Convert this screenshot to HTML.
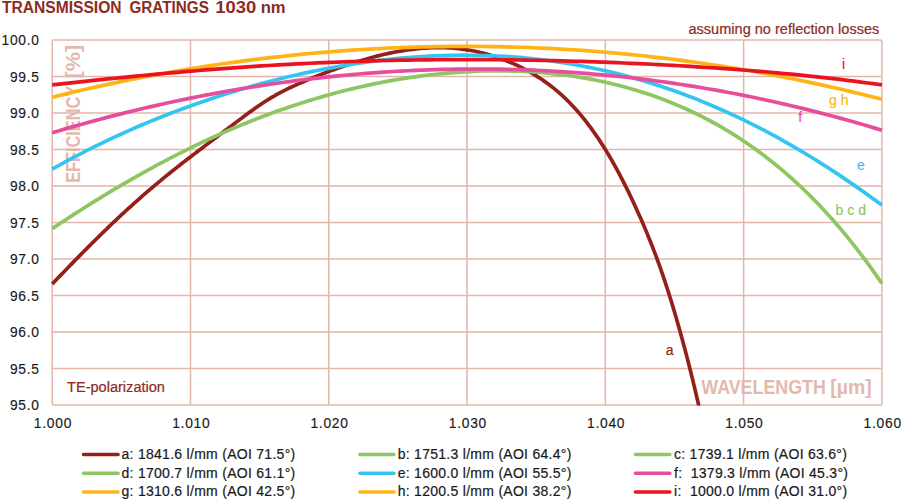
<!DOCTYPE html>
<html><head><meta charset="utf-8"><style>
html,body{margin:0;padding:0;background:#fff;}
body{width:922px;height:500px;overflow:hidden;}
svg{display:block;}
text{font-family:"Liberation Sans",sans-serif;}
.title{font-weight:bold;font-size:15.6px;fill:#8d2a22;}
.sub{font-size:14.55px;fill:#8d2a22;stroke:#8d2a22;stroke-width:0.2px;}
.axt{font-weight:bold;font-size:19.5px;fill:#e3b8ad;}
.cl{font-size:14px;stroke-width:0.15px;}
.num{font-size:13.8px;letter-spacing:0.75px;fill:#1a1a1a;stroke:#1a1a1a;stroke-width:0.15px;}
.leg{font-size:14px;letter-spacing:0.28px;fill:#1a1a1a;stroke:#1a1a1a;stroke-width:0.2px;white-space:pre;}
</style></head><body>
<svg width="922" height="500" viewBox="0 0 922 500">
<defs><clipPath id="clip"><rect x="50.2" y="0" width="833.6999999999999" height="405.6"/></clipPath></defs>
<g stroke="#e2b6ab" stroke-width="1.5" fill="none">
<line x1="190.48" y1="40.00" x2="190.48" y2="405.00"/>
<line x1="328.77" y1="40.00" x2="328.77" y2="405.00"/>
<line x1="467.05" y1="40.00" x2="467.05" y2="405.00"/>
<line x1="605.33" y1="40.00" x2="605.33" y2="405.00"/>
<line x1="743.62" y1="40.00" x2="743.62" y2="405.00"/>
<line x1="52.20" y1="76.50" x2="881.90" y2="76.50"/>
<line x1="52.20" y1="113.00" x2="881.90" y2="113.00"/>
<line x1="52.20" y1="149.50" x2="881.90" y2="149.50"/>
<line x1="52.20" y1="186.00" x2="881.90" y2="186.00"/>
<line x1="52.20" y1="222.50" x2="881.90" y2="222.50"/>
<line x1="52.20" y1="259.00" x2="881.90" y2="259.00"/>
<line x1="52.20" y1="295.50" x2="881.90" y2="295.50"/>
<line x1="52.20" y1="332.00" x2="881.90" y2="332.00"/>
<line x1="52.20" y1="368.50" x2="881.90" y2="368.50"/>
<rect x="52.20" y="40.00" width="829.70" height="365.00" rx="1.5" stroke-linejoin="round"/>
</g>
<text transform="translate(79.6 182.8) rotate(-90)" class="axt" textLength="97" lengthAdjust="spacingAndGlyphs">EFFICIENCY</text>
<text transform="translate(79.6 78.4) rotate(-90)" class="axt" textLength="33.6" lengthAdjust="spacingAndGlyphs">[%]</text>
<text x="701.3" y="394.3" class="axt" textLength="124.5" lengthAdjust="spacingAndGlyphs">WAVELENGTH</text>
<text x="830.3" y="394.3" class="axt">[µm]</text>
<g fill="none" stroke-width="3.7" stroke-linejoin="round" clip-path="url(#clip)">
<path d="M52.25 283.96 L54.13 282.00 L56.02 280.03 L57.90 278.07 L59.79 276.10 L61.68 274.14 L63.57 272.18 L65.47 270.22 L67.36 268.27 L69.26 266.31 L71.16 264.36 L73.06 262.41 L74.97 260.47 L76.87 258.52 L78.78 256.58 L80.70 254.64 L82.61 252.70 L84.53 250.77 L86.45 248.84 L88.37 246.91 L90.30 244.99 L92.23 243.06 L94.16 241.15 L96.10 239.23 L98.04 237.32 L99.98 235.41 L101.93 233.51 L103.88 231.60 L105.83 229.71 L107.79 227.81 L109.76 225.93 L111.72 224.04 L113.70 222.17 L115.67 220.29 L117.66 218.43 L119.65 216.57 L121.64 214.71 L123.64 212.86 L125.64 211.01 L127.65 209.18 L129.67 207.34 L131.69 205.52 L133.71 203.69 L135.74 201.88 L137.78 200.07 L139.82 198.27 L141.86 196.47 L143.91 194.68 L145.97 192.89 L148.03 191.11 L150.10 189.34 L152.17 187.57 L154.25 185.81 L156.33 184.06 L158.43 182.31 L160.52 180.57 L162.63 178.84 L164.73 177.12 L166.85 175.40 L168.97 173.69 L171.10 171.99 L173.23 170.30 L175.37 168.61 L177.51 166.93 L179.65 165.25 L181.81 163.58 L183.96 161.91 L186.12 160.25 L188.28 158.59 L190.44 156.94 L192.61 155.28 L194.77 153.63 L196.94 151.98 L199.10 150.33 L201.27 148.68 L203.44 147.04 L205.61 145.39 L207.78 143.74 L209.95 142.10 L212.12 140.45 L214.29 138.81 L216.46 137.16 L218.64 135.52 L220.81 133.88 L222.98 132.24 L225.15 130.59 L227.33 128.95 L229.50 127.31 L231.68 125.67 L233.85 124.03 L236.03 122.39 L238.20 120.76 L240.38 119.12 L242.56 117.49 L244.74 115.85 L246.92 114.23 L249.11 112.61 L251.31 111.00 L253.52 109.40 L255.74 107.83 L257.97 106.27 L260.22 104.73 L262.49 103.22 L264.77 101.73 L267.07 100.28 L269.39 98.84 L271.72 97.44 L274.08 96.07 L276.45 94.73 L278.83 93.42 L281.24 92.14 L283.65 90.88 L286.09 89.66 L288.53 88.46 L290.99 87.29 L293.46 86.14 L295.94 85.01 L298.42 83.89 L300.92 82.80 L303.42 81.72 L305.92 80.65 L308.43 79.59 L310.95 78.55 L313.47 77.52 L316.00 76.51 L318.53 75.50 L321.07 74.51 L323.60 73.52 L326.15 72.55 L328.70 71.59 L331.25 70.64 L333.80 69.70 L336.36 68.77 L338.93 67.85 L341.50 66.94 L344.07 66.05 L346.65 65.17 L349.23 64.30 L351.81 63.44 L354.41 62.60 L357.00 61.78 L359.60 60.97 L362.21 60.18 L364.82 59.41 L367.44 58.66 L370.06 57.92 L372.69 57.21 L375.32 56.52 L377.96 55.84 L380.61 55.19 L383.26 54.57 L385.91 53.96 L388.57 53.38 L391.24 52.82 L393.91 52.29 L396.59 51.79 L399.27 51.31 L401.95 50.85 L404.64 50.43 L407.34 50.03 L410.04 49.65 L412.74 49.31 L415.44 49.00 L418.15 48.71 L420.86 48.46 L423.58 48.23 L426.30 48.04 L429.01 47.89 L431.74 47.77 L434.46 47.68 L437.18 47.64 L439.90 47.63 L442.63 47.66 L445.35 47.73 L448.07 47.84 L450.79 48.00 L453.51 48.19 L456.22 48.43 L458.93 48.71 L461.63 49.04 L464.33 49.40 L467.03 49.81 L469.71 50.26 L472.39 50.75 L475.06 51.28 L477.73 51.85 L480.38 52.46 L483.03 53.11 L485.66 53.80 L488.29 54.53 L490.90 55.29 L493.50 56.09 L496.09 56.94 L498.67 57.81 L501.24 58.73 L503.79 59.68 L506.32 60.67 L508.85 61.70 L511.35 62.77 L513.84 63.87 L516.32 65.01 L518.78 66.18 L521.22 67.39 L523.64 68.63 L526.04 69.91 L528.43 71.23 L530.80 72.57 L533.14 73.96 L535.47 75.37 L537.77 76.82 L540.06 78.30 L542.32 79.82 L544.56 81.37 L546.78 82.95 L548.97 84.56 L551.14 86.21 L553.29 87.89 L555.40 89.61 L557.49 91.35 L559.55 93.13 L561.59 94.94 L563.60 96.78 L565.58 98.65 L567.53 100.55 L569.45 102.48 L571.34 104.44 L573.21 106.42 L575.05 108.43 L576.87 110.46 L578.65 112.52 L580.41 114.60 L582.15 116.69 L583.86 118.81 L585.55 120.95 L587.22 123.10 L588.87 125.27 L590.50 127.45 L592.11 129.65 L593.69 131.86 L595.26 134.09 L596.81 136.33 L598.33 138.59 L599.84 140.86 L601.33 143.14 L602.80 145.43 L604.26 147.73 L605.69 150.05 L607.11 152.37 L608.51 154.71 L609.90 157.05 L611.27 159.41 L612.62 161.77 L613.96 164.14 L615.28 166.52 L616.59 168.91 L617.89 171.30 L619.17 173.71 L620.44 176.12 L621.70 178.53 L622.95 180.95 L624.18 183.38 L625.41 185.81 L626.62 188.25 L627.82 190.69 L629.02 193.14 L630.20 195.60 L631.37 198.05 L632.54 200.52 L633.69 202.98 L634.84 205.45 L635.98 207.93 L637.11 210.41 L638.23 212.89 L639.34 215.38 L640.44 217.87 L641.53 220.36 L642.62 222.86 L643.69 225.36 L644.76 227.87 L645.82 230.38 L646.87 232.89 L647.90 235.41 L648.93 237.93 L649.95 240.46 L650.96 242.99 L651.96 245.52 L652.95 248.06 L653.93 250.60 L654.89 253.15 L655.85 255.70 L656.80 258.25 L657.74 260.81 L658.67 263.37 L659.58 265.93 L660.49 268.50 L661.39 271.07 L662.28 273.64 L663.16 276.22 L664.03 278.80 L664.89 281.39 L665.75 283.97 L666.59 286.56 L667.43 289.15 L668.26 291.75 L669.08 294.34 L669.90 296.94 L670.71 299.54 L671.51 302.14 L672.31 304.75 L673.10 307.36 L673.88 309.97 L674.65 312.58 L675.42 315.19 L676.19 317.80 L676.95 320.42 L677.70 323.04 L678.44 325.66 L679.18 328.28 L679.92 330.90 L680.65 333.52 L681.37 336.15 L682.09 338.78 L682.81 341.40 L683.52 344.03 L684.22 346.66 L684.92 349.30 L685.61 351.93 L686.30 354.57 L686.99 357.20 L687.67 359.84 L688.34 362.48 L689.01 365.12 L689.68 367.76 L690.34 370.40 L691.00 373.04 L691.65 375.69 L692.30 378.33 L692.95 380.98 L693.59 383.63 L694.22 386.27 L694.86 388.92 L695.49 391.57 L696.11 394.22 L696.73 396.88 L697.35 399.53 L697.96 402.18 L698.57 404.84 L699.18 407.49 L699.79 410.15 L700.39 412.80" stroke="#95201a"/>
<path d="M52.20 228.66 L59.17 224.03 L66.14 219.45 L73.12 214.92 L80.09 210.45 L87.06 206.03 L94.03 201.67 L101.01 197.37 L107.98 193.13 L114.95 188.95 L121.92 184.83 L128.89 180.78 L135.87 176.79 L142.84 172.87 L149.81 169.01 L156.78 165.23 L163.76 161.51 L170.73 157.86 L177.70 154.28 L184.67 150.78 L191.65 147.34 L198.62 143.98 L205.59 140.69 L212.56 137.47 L219.53 134.33 L226.51 131.26 L233.48 128.26 L240.45 125.34 L247.42 122.50 L254.40 119.72 L261.37 117.03 L268.34 114.40 L275.31 111.86 L282.28 109.39 L289.26 106.99 L296.23 104.67 L303.20 102.42 L310.17 100.25 L317.15 98.16 L324.12 96.14 L331.09 94.20 L338.06 92.33 L345.04 90.54 L352.01 88.83 L358.98 87.19 L365.95 85.63 L372.92 84.14 L379.90 82.73 L386.87 81.40 L393.84 80.14 L400.81 78.97 L407.79 77.87 L414.76 76.84 L421.73 75.90 L428.70 75.03 L435.67 74.25 L442.65 73.54 L449.62 72.92 L456.59 72.37 L463.56 71.91 L470.54 71.53 L477.51 71.23 L484.48 71.02 L491.45 70.89 L498.43 70.85 L505.40 70.90 L512.37 71.04 L519.34 71.27 L526.31 71.59 L533.29 72.00 L540.26 72.51 L547.23 73.11 L554.20 73.81 L561.18 74.62 L568.15 75.52 L575.12 76.53 L582.09 77.65 L589.06 78.88 L596.04 80.22 L603.01 81.67 L609.98 83.25 L616.95 84.94 L623.93 86.75 L630.90 88.70 L637.87 90.77 L644.84 92.98 L651.82 95.32 L658.79 97.80 L665.76 100.43 L672.73 103.21 L679.70 106.14 L686.68 109.23 L693.65 112.48 L700.62 115.90 L707.59 119.49 L714.57 123.25 L721.54 127.20 L728.51 131.34 L735.48 135.67 L742.45 140.20 L749.43 144.93 L756.40 149.88 L763.37 155.04 L770.34 160.43 L777.32 166.05 L784.29 171.91 L791.26 178.01 L798.23 184.37 L805.21 190.99 L812.18 197.88 L819.15 205.04 L826.12 212.49 L833.09 220.24 L840.07 228.28 L847.04 236.64 L854.01 245.32 L860.98 254.33 L867.96 263.68 L874.93 273.38 L881.90 283.44" stroke="#8dc663"/>
<path d="M52.20 169.14 L59.17 165.24 L66.14 161.42 L73.12 157.69 L80.09 154.03 L87.06 150.46 L94.03 146.96 L101.01 143.54 L107.98 140.20 L114.95 136.93 L121.92 133.73 L128.89 130.60 L135.87 127.54 L142.84 124.56 L149.81 121.64 L156.78 118.78 L163.76 116.00 L170.73 113.28 L177.70 110.62 L184.67 108.03 L191.65 105.50 L198.62 103.04 L205.59 100.64 L212.56 98.30 L219.53 96.02 L226.51 93.80 L233.48 91.65 L240.45 89.55 L247.42 87.52 L254.40 85.54 L261.37 83.63 L268.34 81.77 L275.31 79.98 L282.28 78.25 L289.26 76.57 L296.23 74.96 L303.20 73.41 L310.17 71.92 L317.15 70.49 L324.12 69.12 L331.09 67.81 L338.06 66.57 L345.04 65.38 L352.01 64.26 L358.98 63.20 L365.95 62.21 L372.92 61.27 L379.90 60.41 L386.87 59.61 L393.84 58.87 L400.81 58.20 L407.79 57.59 L414.76 57.05 L421.73 56.58 L428.70 56.18 L435.67 55.85 L442.65 55.58 L449.62 55.39 L456.59 55.27 L463.56 55.21 L470.54 55.23 L477.51 55.33 L484.48 55.50 L491.45 55.74 L498.43 56.05 L505.40 56.44 L512.37 56.91 L519.34 57.46 L526.31 58.08 L533.29 58.78 L540.26 59.56 L547.23 60.42 L554.20 61.37 L561.18 62.39 L568.15 63.49 L575.12 64.68 L582.09 65.95 L589.06 67.31 L596.04 68.75 L603.01 70.27 L609.98 71.88 L616.95 73.58 L623.93 75.36 L630.90 77.23 L637.87 79.19 L644.84 81.24 L651.82 83.38 L658.79 85.60 L665.76 87.92 L672.73 90.33 L679.70 92.82 L686.68 95.41 L693.65 98.09 L700.62 100.87 L707.59 103.73 L714.57 106.68 L721.54 109.73 L728.51 112.87 L735.48 116.11 L742.45 119.43 L749.43 122.85 L756.40 126.36 L763.37 129.97 L770.34 133.66 L777.32 137.45 L784.29 141.33 L791.26 145.30 L798.23 149.37 L805.21 153.52 L812.18 157.77 L819.15 162.11 L826.12 166.53 L833.09 171.05 L840.07 175.66 L847.04 180.35 L854.01 185.13 L860.98 190.00 L867.96 194.95 L874.93 199.99 L881.90 205.11" stroke="#34c4f3"/>
<path d="M52.20 132.71 L59.17 130.65 L66.14 128.62 L73.12 126.63 L80.09 124.67 L87.06 122.74 L94.03 120.85 L101.01 118.99 L107.98 117.16 L114.95 115.37 L121.92 113.61 L128.89 111.89 L135.87 110.20 L142.84 108.54 L149.81 106.92 L156.78 105.33 L163.76 103.78 L170.73 102.26 L177.70 100.77 L184.67 99.32 L191.65 97.90 L198.62 96.51 L205.59 95.16 L212.56 93.84 L219.53 92.55 L226.51 91.30 L233.48 90.09 L240.45 88.90 L247.42 87.75 L254.40 86.64 L261.37 85.56 L268.34 84.51 L275.31 83.49 L282.28 82.52 L289.26 81.57 L296.23 80.66 L303.20 79.78 L310.17 78.94 L317.15 78.13 L324.12 77.35 L331.09 76.61 L338.06 75.91 L345.04 75.23 L352.01 74.60 L358.98 73.99 L365.95 73.42 L372.92 72.89 L379.90 72.39 L386.87 71.93 L393.84 71.49 L400.81 71.10 L407.79 70.74 L414.76 70.41 L421.73 70.12 L428.70 69.86 L435.67 69.64 L442.65 69.45 L449.62 69.30 L456.59 69.18 L463.56 69.10 L470.54 69.05 L477.51 69.04 L484.48 69.06 L491.45 69.12 L498.43 69.22 L505.40 69.35 L512.37 69.51 L519.34 69.71 L526.31 69.95 L533.29 70.22 L540.26 70.52 L547.23 70.87 L554.20 71.24 L561.18 71.66 L568.15 72.11 L575.12 72.59 L582.09 73.12 L589.06 73.67 L596.04 74.27 L603.01 74.90 L609.98 75.56 L616.95 76.27 L623.93 77.01 L630.90 77.78 L637.87 78.59 L644.84 79.44 L651.82 80.32 L658.79 81.25 L665.76 82.20 L672.73 83.20 L679.70 84.23 L686.68 85.30 L693.65 86.40 L700.62 87.54 L707.59 88.72 L714.57 89.93 L721.54 91.18 L728.51 92.47 L735.48 93.80 L742.45 95.16 L749.43 96.56 L756.40 98.00 L763.37 99.47 L770.34 100.98 L777.32 102.53 L784.29 104.12 L791.26 105.74 L798.23 107.40 L805.21 109.10 L812.18 110.83 L819.15 112.61 L826.12 114.42 L833.09 116.26 L840.07 118.15 L847.04 120.07 L854.01 122.03 L860.98 124.03 L867.96 126.06 L874.93 128.14 L881.90 130.25" stroke="#e84c9c"/>
<path d="M52.20 97.24 L59.17 95.52 L66.14 93.83 L73.12 92.17 L80.09 90.54 L87.06 88.94 L94.03 87.38 L101.01 85.84 L107.98 84.33 L114.95 82.85 L121.92 81.41 L128.89 79.99 L135.87 78.60 L142.84 77.25 L149.81 75.92 L156.78 74.63 L163.76 73.36 L170.73 72.12 L177.70 70.91 L184.67 69.74 L191.65 68.59 L198.62 67.47 L205.59 66.38 L212.56 65.32 L219.53 64.29 L226.51 63.28 L233.48 62.31 L240.45 61.37 L247.42 60.45 L254.40 59.57 L261.37 58.71 L268.34 57.88 L275.31 57.08 L282.28 56.31 L289.26 55.57 L296.23 54.86 L303.20 54.17 L310.17 53.52 L317.15 52.89 L324.12 52.29 L331.09 51.73 L338.06 51.19 L345.04 50.67 L352.01 50.19 L358.98 49.74 L365.95 49.31 L372.92 48.92 L379.90 48.55 L386.87 48.21 L393.84 47.90 L400.81 47.62 L407.79 47.36 L414.76 47.14 L421.73 46.94 L428.70 46.78 L435.67 46.64 L442.65 46.53 L449.62 46.45 L456.59 46.40 L463.56 46.38 L470.54 46.38 L477.51 46.42 L484.48 46.48 L491.45 46.57 L498.43 46.70 L505.40 46.85 L512.37 47.03 L519.34 47.24 L526.31 47.47 L533.29 47.74 L540.26 48.04 L547.23 48.36 L554.20 48.72 L561.18 49.10 L568.15 49.52 L575.12 49.96 L582.09 50.43 L589.06 50.93 L596.04 51.47 L603.01 52.03 L609.98 52.62 L616.95 53.24 L623.93 53.89 L630.90 54.57 L637.87 55.28 L644.84 56.02 L651.82 56.79 L658.79 57.59 L665.76 58.41 L672.73 59.27 L679.70 60.16 L686.68 61.08 L693.65 62.03 L700.62 63.01 L707.59 64.02 L714.57 65.07 L721.54 66.14 L728.51 67.24 L735.48 68.37 L742.45 69.53 L749.43 70.73 L756.40 71.95 L763.37 73.21 L770.34 74.50 L777.32 75.81 L784.29 77.16 L791.26 78.54 L798.23 79.95 L805.21 81.39 L812.18 82.87 L819.15 84.37 L826.12 85.91 L833.09 87.47 L840.07 89.07 L847.04 90.70 L854.01 92.36 L860.98 94.06 L867.96 95.78 L874.93 97.54 L881.90 99.33" stroke="#fdb414"/>
<path d="M52.20 84.90 L59.17 84.14 L66.14 83.39 L73.12 82.64 L80.09 81.89 L87.06 81.15 L94.03 80.41 L101.01 79.68 L107.98 78.96 L114.95 78.25 L121.92 77.55 L128.89 76.85 L135.87 76.17 L142.84 75.49 L149.81 74.83 L156.78 74.17 L163.76 73.53 L170.73 72.90 L177.70 72.29 L184.67 71.68 L191.65 71.09 L198.62 70.51 L205.59 69.95 L212.56 69.40 L219.53 68.86 L226.51 68.34 L233.48 67.83 L240.45 67.34 L247.42 66.86 L254.40 66.39 L261.37 65.95 L268.34 65.51 L275.31 65.09 L282.28 64.69 L289.26 64.31 L296.23 63.93 L303.20 63.58 L310.17 63.24 L317.15 62.91 L324.12 62.60 L331.09 62.31 L338.06 62.03 L345.04 61.77 L352.01 61.52 L358.98 61.29 L365.95 61.08 L372.92 60.88 L379.90 60.69 L386.87 60.52 L393.84 60.36 L400.81 60.22 L407.79 60.10 L414.76 59.99 L421.73 59.89 L428.70 59.81 L435.67 59.74 L442.65 59.69 L449.62 59.65 L456.59 59.62 L463.56 59.61 L470.54 59.61 L477.51 59.63 L484.48 59.66 L491.45 59.70 L498.43 59.76 L505.40 59.83 L512.37 59.91 L519.34 60.01 L526.31 60.12 L533.29 60.24 L540.26 60.37 L547.23 60.52 L554.20 60.68 L561.18 60.86 L568.15 61.04 L575.12 61.24 L582.09 61.45 L589.06 61.68 L596.04 61.91 L603.01 62.16 L609.98 62.43 L616.95 62.70 L623.93 62.99 L630.90 63.29 L637.87 63.60 L644.84 63.93 L651.82 64.27 L658.79 64.62 L665.76 64.99 L672.73 65.37 L679.70 65.76 L686.68 66.17 L693.65 66.59 L700.62 67.03 L707.59 67.48 L714.57 67.95 L721.54 68.43 L728.51 68.93 L735.48 69.44 L742.45 69.98 L749.43 70.52 L756.40 71.09 L763.37 71.67 L770.34 72.28 L777.32 72.90 L784.29 73.54 L791.26 74.20 L798.23 74.88 L805.21 75.58 L812.18 76.31 L819.15 77.05 L826.12 77.83 L833.09 78.62 L840.07 79.44 L847.04 80.29 L854.01 81.16 L860.98 82.06 L867.96 82.99 L874.93 83.95 L881.90 84.94" stroke="#eb141e"/>
</g>
<text x="665.8" y="354.8" class="cl" fill="#95201a" stroke="#95201a">a</text>
<text x="835.6" y="215" class="cl" fill="#8dc663" stroke="#8dc663">b c d</text>
<text x="857" y="169.9" class="cl" fill="#34c4f3" stroke="#34c4f3">e</text>
<text x="798.3" y="122.4" class="cl" fill="#e84c9c" stroke="#e84c9c">f</text>
<text x="829" y="105.3" class="cl" fill="#fdb414" stroke="#fdb414">g h</text>
<text x="842" y="69" class="cl" fill="#eb141e" stroke="#eb141e">i</text>
<text y="13" class="title"><tspan x="2">TRANSMISSION</tspan> <tspan x="129.4" textLength="79.5" lengthAdjust="spacingAndGlyphs">GRATINGS</tspan> <tspan x="215.2" textLength="41" lengthAdjust="spacingAndGlyphs">1030</tspan> <tspan x="260.7" textLength="25" lengthAdjust="spacingAndGlyphs">nm</tspan></text>
<text x="879.3" y="33.7" class="sub" text-anchor="end">assuming no reflection losses</text>
<text x="67.1" y="391.5" class="sub">TE-polarization</text>
<text x="39.8" y="45.00" class="num" text-anchor="end">100.0</text>
<text x="39.8" y="81.50" class="num" text-anchor="end">99.5</text>
<text x="39.8" y="118.00" class="num" text-anchor="end">99.0</text>
<text x="39.8" y="154.50" class="num" text-anchor="end">98.5</text>
<text x="39.8" y="191.00" class="num" text-anchor="end">98.0</text>
<text x="39.8" y="227.50" class="num" text-anchor="end">97.5</text>
<text x="39.8" y="264.00" class="num" text-anchor="end">97.0</text>
<text x="39.8" y="300.50" class="num" text-anchor="end">96.5</text>
<text x="39.8" y="337.00" class="num" text-anchor="end">96.0</text>
<text x="39.8" y="373.50" class="num" text-anchor="end">95.5</text>
<text x="39.8" y="410.00" class="num" text-anchor="end">95.0</text>
<text x="53.00" y="427.6" class="num" text-anchor="middle">1.000</text>
<text x="191.28" y="427.6" class="num" text-anchor="middle">1.010</text>
<text x="329.57" y="427.6" class="num" text-anchor="middle">1.020</text>
<text x="467.85" y="427.6" class="num" text-anchor="middle">1.030</text>
<text x="606.13" y="427.6" class="num" text-anchor="middle">1.040</text>
<text x="744.42" y="427.6" class="num" text-anchor="middle">1.050</text>
<text x="882.70" y="427.6" class="num" text-anchor="middle">1.060</text>
<line x1="83.5" y1="454.5" x2="118.1" y2="454.5" stroke="#95201a" stroke-width="3.4" stroke-linecap="round"/>
<text x="121.5" y="458.8" class="leg" xml:space="preserve">a: 1841.6 l/mm (AOI 71.5°)</text>
<line x1="359.9" y1="454.5" x2="393.9" y2="454.5" stroke="#8dc663" stroke-width="3.4" stroke-linecap="round"/>
<text x="397.7" y="458.8" class="leg" xml:space="preserve">b: 1751.3 l/mm (AOI 64.4°)</text>
<line x1="635.4" y1="454.5" x2="669.9" y2="454.5" stroke="#8dc663" stroke-width="3.4" stroke-linecap="round"/>
<text x="674.0" y="458.8" class="leg" xml:space="preserve">c: 1739.1 l/mm (AOI 63.6°)</text>
<line x1="83.5" y1="473.3" x2="118.1" y2="473.3" stroke="#8dc663" stroke-width="3.4" stroke-linecap="round"/>
<text x="121.5" y="477.6" class="leg" xml:space="preserve">d: 1700.7 l/mm (AOI 61.1°)</text>
<line x1="359.9" y1="473.3" x2="393.9" y2="473.3" stroke="#34c4f3" stroke-width="3.4" stroke-linecap="round"/>
<text x="397.7" y="477.6" class="leg" xml:space="preserve">e: 1600.0 l/mm (AOI 55.5°)</text>
<line x1="635.4" y1="473.3" x2="669.9" y2="473.3" stroke="#e84c9c" stroke-width="3.4" stroke-linecap="round"/>
<text x="674.0" y="477.6" class="leg" xml:space="preserve">f:  1379.3 l/mm (AOI 45.3°)</text>
<line x1="83.5" y1="492.0" x2="118.1" y2="492.0" stroke="#fdb414" stroke-width="3.4" stroke-linecap="round"/>
<text x="121.5" y="496.3" class="leg" xml:space="preserve">g: 1310.6 l/mm (AOI 42.5°)</text>
<line x1="359.9" y1="492.0" x2="393.9" y2="492.0" stroke="#fdb414" stroke-width="3.4" stroke-linecap="round"/>
<text x="397.7" y="496.3" class="leg" xml:space="preserve">h: 1200.5 l/mm (AOI 38.2°)</text>
<line x1="635.4" y1="492.0" x2="669.9" y2="492.0" stroke="#eb141e" stroke-width="3.4" stroke-linecap="round"/>
<text x="674.0" y="496.3" class="leg" xml:space="preserve">i:  1000.0 l/mm (AOI 31.0°)</text>
</svg>
</body></html>
